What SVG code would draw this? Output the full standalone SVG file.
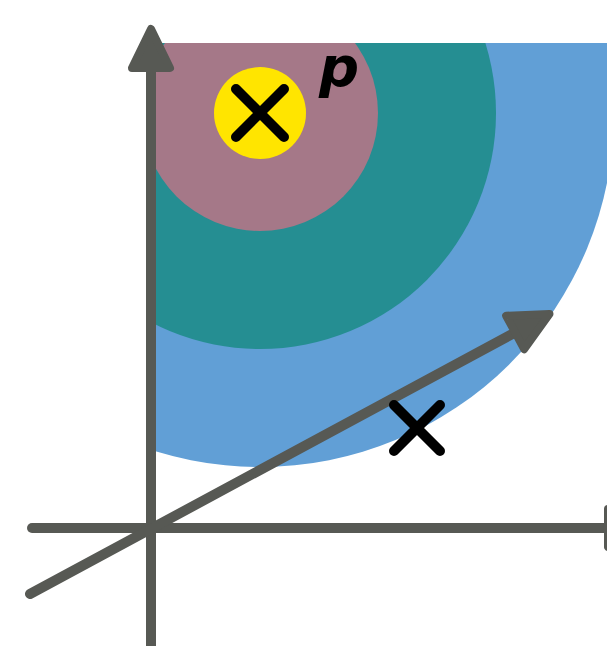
<svg xmlns="http://www.w3.org/2000/svg" width="607" height="646" viewBox="0 0 607 646">
<style>
.axis{stroke:#575954;stroke-width:10;stroke-linecap:round;fill:none}
.cross{stroke:#000;stroke-width:10;stroke-linecap:round;fill:none}
.lbl{font-family:"DejaVu Sans","Liberation Sans",sans-serif;font-weight:bold;font-style:italic;font-size:56px;fill:#000}
</style>
<defs>
<clipPath id="quad"><rect x="151" y="43" width="470" height="620"/></clipPath>
<marker id="arrow" markerUnits="userSpaceOnUse" viewBox="0 0 60 60" markerWidth="60" markerHeight="60" refX="20" refY="30" orient="auto" overflow="visible">
<path d="M7,11 L46,30 L7,49 Z" fill="#575954" stroke="#575954" stroke-width="8" stroke-linejoin="round"/>
</marker>
</defs>
<g id="regions" clip-path="url(#quad)">
<circle id="region-outer" cx="260" cy="113" r="354" fill="#619FD6"/>
<circle id="region-middle" cx="260" cy="113" r="236" fill="#258E92"/>
<circle id="region-inner" cx="260" cy="113" r="118" fill="#A57888"/>
</g>
<g id="connectors">
<line class="axis" x1="151" y1="660" x2="151" y2="55" marker-end="url(#arrow)"/>
<line class="axis" x1="32" y1="528" x2="621" y2="528" marker-end="url(#arrow)"/>
<line class="axis" x1="30" y1="594" x2="526.6" y2="326.3" marker-end="url(#arrow)"/>
</g>
<g id="point-p">
<circle cx="260" cy="113" r="46" fill="#FFE500"/>
<path class="cross" d="M236,89 L284,137 M284,89 L236,137"/>
<text class="lbl" x="319" y="86">p</text>
</g>
<g id="point-x">
<path class="cross" d="M394,405 L440,451 M440,405 L394,451"/>
</g>
</svg>
